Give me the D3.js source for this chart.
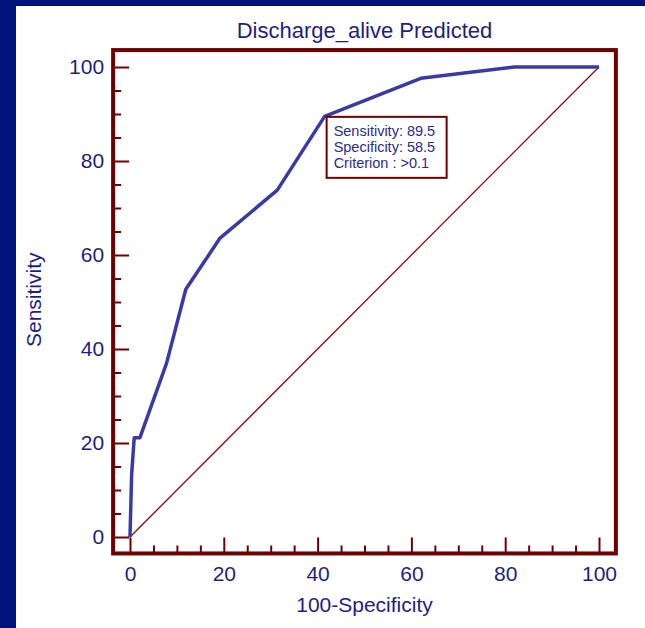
<!DOCTYPE html>
<html>
<head>
<meta charset="utf-8">
<script src="https://cdn.jsdelivr.net/npm/d3@7"></script>
<style>
  html, body { margin: 0; padding: 0; background: #00137a; }
  svg { display: block; font-family: "Liberation Sans", Arial, sans-serif; }
</style>
</head>
<body>
<div class="container"></div>
<script>
// ROC points
var fpr = [0, 0.35, 0.9, 2.1, 7.8, 11.9, 19.2, 31.4, 41.5, 62.0, 82.0, 100];
var tpr = [0, 13.4, 21.1, 21.1, 37.0, 52.7, 63.6, 73.8, 89.5, 97.6, 100, 100];
var diag = [0, 100];
var majorTicks = [0, 20, 40, 60, 80, 100];
var minorTicks = d3.range(0, 101, 5).filter(d => d % 20 !== 0);
var cutoff = {x: 41.5, y: 89.5};
var noteLines = ['Sensitivity: 89.5', 'Specificity: 58.5', 'Criterion : >0.1'];

var translate = (x, y) => (`translate(${x}, ${y})`);

const WIDTH = 645;
const HEIGHT = 628;
const MAROON = '#6e0000';
const TEXT = '#1e1e82';

var xScale = d3.scaleLinear()
    .domain([0, 100])
    .range([130, 599]);

var yScale = d3.scaleLinear()
    .domain([0, 100])
    .range([537, 67]);

var loadChart = function () {
    let svg = d3.select('.container').append('svg')
        .attr('width', WIDTH)
        .attr('height', HEIGHT);

    // white panel inside the navy slide border
    svg.append('rect')
        .attr('x', 16).attr('y', 6)
        .attr('width', WIDTH - 16).attr('height', HEIGHT - 6)
        .attr('fill', '#ffffff');

    let left = xScale(-3.6), right = xScale(103.6);
    let top = yScale(103.6), bottom = yScale(-3.5);

    // y axis, ticks pointing inward
    let yMajor = svg.append('g')
        .attr('transform', translate(left, 0))
        .call(d3.axisLeft(yScale).tickValues(majorTicks).tickSize(-16).tickPadding(9));
    let yMinor = svg.append('g')
        .attr('transform', translate(left, 0))
        .call(d3.axisLeft(yScale).tickValues(minorTicks).tickSize(-8).tickFormat(''));

    let xMajor = svg.append('g')
        .attr('transform', translate(0, bottom))
        .call(d3.axisBottom(xScale).tickValues(majorTicks).tickSize(-16).tickPadding(13));
    let xMinor = svg.append('g')
        .attr('transform', translate(0, bottom))
        .call(d3.axisBottom(xScale).tickValues(minorTicks).tickSize(-8).tickFormat(''));

    [yMajor, yMinor, xMajor, xMinor].forEach(g => {
        g.select('.domain').remove();
        g.selectAll('line').attr('stroke', MAROON).attr('stroke-width', 2);
        g.selectAll('text')
            .attr('fill', TEXT)
            .style('font-size', '21px');
    });

    // frame
    svg.append('rect')
        .attr('x', left).attr('y', top)
        .attr('width', right - left).attr('height', bottom - top)
        .attr('fill', 'none')
        .attr('stroke', MAROON)
        .attr('stroke-width', 4);

    // reference diagonal
    svg.append('path')
        .attr('d', d3.line().x(d => xScale(d)).y(d => yScale(d))(diag))
        .attr('fill', 'none')
        .attr('stroke', '#8a0a0a')
        .attr('stroke-width', 1.3);

    // ROC curve
    let rocLine = d3.line()
        .x((d, i) => xScale(fpr[i]))
        .y((d, i) => yScale(tpr[i]));

    svg.append('path')
        .attr('d', rocLine(fpr))
        .attr('fill', 'none')
        .attr('stroke', '#3a3aa6')
        .attr('stroke-width', 3.5)
        .attr('stroke-linejoin', 'round');

    // criterion note
    let bx = xScale(cutoff.x) + 2, by = yScale(cutoff.y) + 0.5;
    svg.append('rect')
        .attr('x', bx).attr('y', by)
        .attr('width', 120).attr('height', 61)
        .attr('fill', '#ffffff')
        .attr('stroke', MAROON)
        .attr('stroke-width', 2);

    svg.append('g').selectAll('text')
        .data(noteLines)
        .enter().append('text')
        .attr('x', bx + 7)
        .attr('y', (d, i) => by + 19.5 + i * 16)
        .attr('fill', '#2a2a92')
        .style('font-size', '14.5px')
        .text(d => d);

    // titles
    svg.append('text')
        .attr('x', (left + right) / 2)
        .attr('y', 38)
        .attr('text-anchor', 'middle')
        .attr('fill', TEXT)
        .style('font-size', '22px')
        .text('Discharge_alive Predicted');

    svg.append('text')
        .attr('x', (left + right) / 2)
        .attr('y', 612)
        .attr('text-anchor', 'middle')
        .attr('fill', TEXT)
        .style('font-size', '21px')
        .text('100-Specificity');

    svg.append('text')
        .attr('transform', translate(41, (top + bottom) / 2 - 2) + ' rotate(-90)')
        .attr('text-anchor', 'middle')
        .attr('fill', TEXT)
        .style('font-size', '21px')
        .text('Sensitivity');
};

window.onload = loadChart;
</script>
</body>
</html>
